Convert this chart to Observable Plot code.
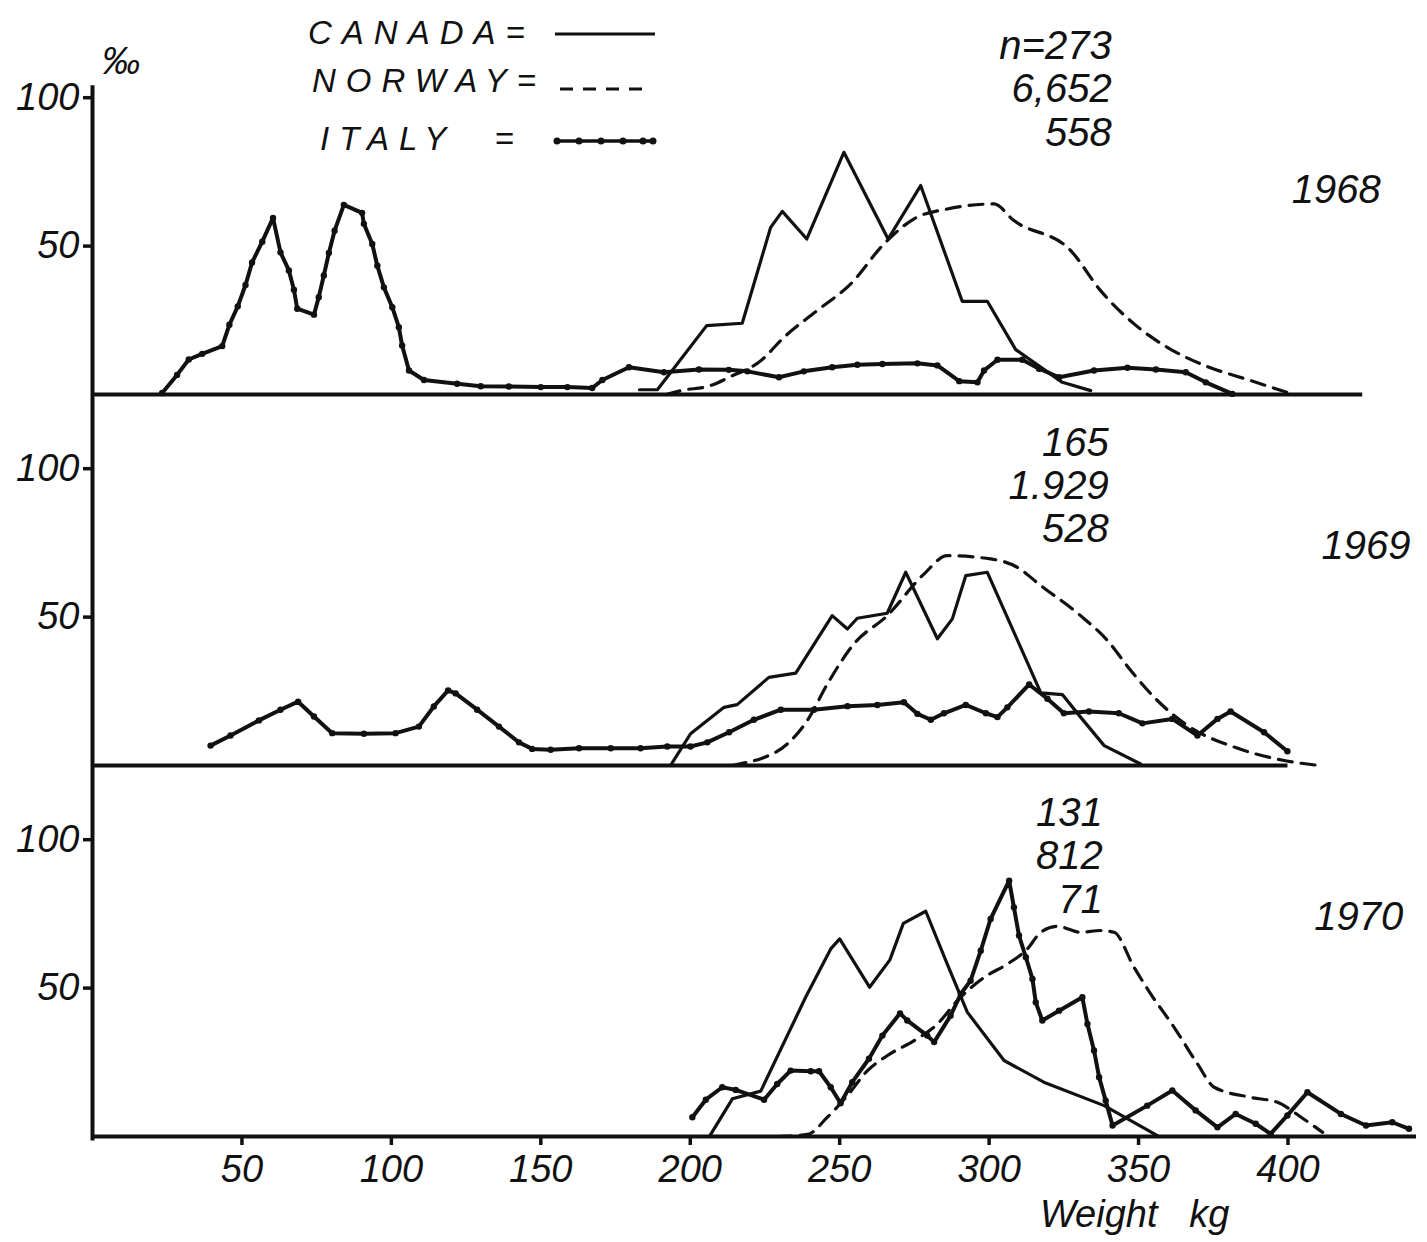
<!DOCTYPE html>
<html><head><meta charset="utf-8">
<script src="https://cdn.jsdelivr.net/npm/d3@7"></script>
<script src="https://cdn.jsdelivr.net/npm/@observablehq/plot@0.6"></script>
<style>
body{margin:0;background:#fff;}
#wrap{position:relative;width:1427px;height:1242px;font-family:"Liberation Sans",sans-serif;font-style:italic;color:#111;}
.leg{position:absolute;font-size:33px;letter-spacing:10px;line-height:1;white-space:nowrap;}
#legsvg{position:absolute;left:545px;top:0px;}
</style></head><body><div id="wrap"></div>
<script>
// ---- data (weight kg, per mille) ----
const years = ["1968", "1969", "1970"];
const xTicks = [50, 100, 150, 200, 250, 300, 350, 400];
const yTicks = [50, 100];
const nLabels = [["n=273", "6,652", "558"], ["165", "1.929", "528"], ["131", "812", "71"]];
const legendNames = ["CANADA=", "NORWAY=", "ITALY\u00a0\u00a0="];

const canada1968 = [[183,1.6],[189,1.6],[205.5,23.2],[217.4,24],[226.9,56.3],[230.8,61.7],[239,52.4],[251.4,81.6],[266.2,52.4],[277.1,70.4],[291,31.4],[299.4,31.4],[308.9,15.1],[324.5,4.1],[334,1.3]];
const norway1968 = [[192,0],[196.8,1.3],[206.8,3],[213,5.8],[223.6,11.4],[231.4,19.3],[242.5,28.3],[253.7,37.3],[264.8,50.7],[274.9,59.2],[286,62.5],[301.6,64.2],[308.3,58.6],[327.3,48.5],[337.3,35],[348.5,23.8],[359.6,15.9],[370.8,10.3],[387.5,4.7],[402,0]];
const italy1968 = [[23.3,0.5],[28.3,6.6],[32.2,11.8],[36.7,13.7],[43.4,16.3],[45.8,23.5],[48.6,29.7],[51.2,36.9],[53.4,44.5],[56.8,51.5],[60.4,59.5],[62.9,47.9],[65.7,41.8],[67.4,35.3],[68.5,28.9],[74.1,26.9],[75.7,32.8],[77.4,40.1],[79.1,47.7],[81,55.2],[84.1,63.9],[90.2,61.2],[90.8,57.5],[93.6,50.7],[95.3,43.4],[97.5,36.1],[100.3,29.4],[102.5,22.7],[103.6,16.5],[105.9,8.1],[110.9,4.9],[122,3.6],[129.9,2.8],[139.3,2.7],[150,2.5],[158.9,2.5],[167.2,2.2],[170.6,4.9],[179.5,9.2],[191.2,7.5],[202.9,8.4],[212.9,8.3],[219.1,7.8],[229.7,5.8],[238,7.8],[247.5,9.2],[255.9,10],[264.3,10.3],[276,10.5],[282.7,9.8],[290,4.5],[296.1,4.1],[298.3,8.1],[302.8,11.7],[311.1,11.7],[316.7,8.7],[323.4,5.8],[335.1,8.1],[346.3,9],[355.8,8.4],[365.8,7.5],[372.5,4.1],[381.4,0.2]];

const canada1969 = [[193.4,0],[200.1,10.7],[211.3,19.6],[215.7,20.5],[226.3,29.7],[235.3,31.1],[247.5,50.5],[252.6,46],[255.9,49.6],[265.9,51.3],[272.1,65.1],[282.7,42.7],[287.7,49.4],[292.2,64],[299.4,65.1],[317.3,24.5],[324.5,23.9],[330.6,16.3],[338.5,6.7],[350.7,0.5]];
const norway1969 = [[214,0],[219.1,1.1],[223.6,2.3],[232.5,7.3],[239.2,15.2],[245.9,27.5],[254.8,41],[265.9,50.5],[278.2,64.5],[286,70.7],[300.5,69.6],[309.4,66.8],[317.3,60.6],[330.6,50.5],[339.6,42.1],[347.4,32],[356.3,21.9],[366.3,13.5],[382,6.2],[398.7,1.7],[410.4,0]];
const italy1969 = [[39.5,6.7],[46.2,10.1],[55.7,15.2],[62.9,18.8],[68.8,21.5],[74.1,16.5],[80.2,10.9],[90.8,10.7],[101.4,10.9],[109.2,13.1],[114.2,19.9],[119,25.3],[121.5,24.3],[128.7,18.8],[136,13.1],[142.7,7.8],[147.1,5.6],[153.3,5.3],[162.8,5.8],[173.4,5.8],[183.4,5.8],[192.3,6.4],[200.1,6.4],[205.7,7.8],[213,11.2],[221.3,15.4],[230.3,18.8],[241.4,18.8],[252.6,20],[262.6,20.4],[271.5,21.3],[276,17.4],[280.5,15.4],[284.9,17.6],[292.2,20.4],[298.9,17.6],[302.8,16.3],[306.1,19.6],[313.4,27.3],[319.5,22.5],[325,17.6],[333.4,18.2],[343.4,17.6],[351.3,14.2],[361.3,15.7],[369.7,10.1],[376.4,15.7],[380.8,18.2],[392,11.2],[399.8,4.8]];

const canada1970 = [[206.6,0.3],[214.1,12.7],[223.6,15.3],[238.6,46.9],[247,63.2],[250,66.6],[260,50.3],[266.8,59.5],[271.3,71.8],[278.8,75.9],[286,58.1],[292.7,41.9],[305,25.6],[318.3,18.3],[338.5,10.4],[356.3,0.3]];
const norway1970 = [[229,0],[239.2,0.7],[245.9,6.5],[252.6,13.8],[259.3,22.2],[266,27.3],[274.9,32.3],[282.7,37.9],[289.4,45.8],[298.3,53.6],[306.1,58.1],[312.8,63.2],[317.3,68.8],[322.9,70.8],[330.6,68.8],[337.3,69.4],[341.8,68.8],[348.5,57],[354.1,48],[361.9,36.8],[369.7,24.5],[375.3,16.6],[387.5,13.2],[396.5,11.5],[404.4,6.5],[411.6,1.4]];
const italy1970 = [[200.7,6.5],[205.2,12.4],[210.7,16.6],[215.2,15.7],[224.7,12.4],[229.1,17.7],[233.6,22.2],[240.3,22],[243.1,22],[247,16.6],[250.3,11.2],[254.2,18.3],[259.8,26.2],[264.3,34],[270.2,41.5],[272.6,39.1],[279.3,34],[281.6,31.8],[287.1,40.7],[290.5,48],[293.8,52.5],[297.2,62.6],[300.5,73.3],[306.7,86.2],[308.3,77.2],[310,67.7],[312.3,60.4],[314.5,53.1],[315.6,45.2],[317.8,39.1],[323.4,42.4],[331.2,46.9],[332.9,37.9],[335.1,29],[336.8,20],[339,12.1],[341.3,3.7],[352.9,10.4],[361.3,15.5],[369.1,8.8],[376.4,3.1],[382.5,7.6],[389.2,4.3],[394.2,0.9],[399.8,7.1],[406.5,14.9],[417.7,7.6],[426.1,3.7],[434.9,4.8],[440.5,2.6]];

// ---- layout config (not data) ----
const panelFrame = [ {axisTop:104, axisBottom:0, baseEnd:425}, {axisTop:125, axisBottom:0, baseEnd:400}, {axisTop:125, axisBottom:-1.5, baseEnd:443} ];
const annotPos = [ {yearX:431, yearY:68.7, nX:341, nY:123.3}, {yearX:441, yearY:74, nX:340, nY:114.6}, {yearX:438.6, yearY:73.8, nX:338, nY:114.9} ];

// ---- build tables ----
const rows = [];
function add(year, country, arr) { for (const [kg, v] of arr) rows.push({year, country, kg, v}); }
add("1968","Canada",canada1968); add("1968","Norway",norway1968); add("1968","Italy",italy1968);
add("1969","Canada",canada1969); add("1969","Norway",norway1969); add("1969","Italy",italy1969);
add("1970","Canada",canada1970); add("1970","Norway",norway1970); add("1970","Italy",italy1970);
const byC = c => rows.filter(d => d.country === c);
const frames = years.map((year, i) => ({year, ...panelFrame[i]}));
const annots = years.map((year, i) => ({year, n: nLabels[i].join("\n"), ...annotPos[i]}));

const plot = Plot.plot({
  width: 1427, height: 1242,
  marginLeft: 92, marginRight: 11, marginTop: 23, marginBottom: 106,
  x: {domain: [0, 443]},
  y: {domain: [0, 125]},
  fy: {domain: years, padding: 0, axis: null},
  style: {background: "#fff", fontFamily: "'Liberation Sans', sans-serif", fontStyle: "italic", fontSize: "38px", color: "#111"},
  marks: [
    Plot.ruleX(frames, {x: 0, y1: "axisBottom", y2: "axisTop", fy: "year", strokeWidth: 4}),
    Plot.ruleY(frames, {y: 0, x1: 0, x2: "baseEnd", fy: "year", strokeWidth: 4}),
    Plot.axisY({ticks: yTicks, tickSize: 9, tickPadding: 4, strokeWidth: 3.5, label: null, fontSize: 38}),
    Plot.axisX({ticks: xTicks, tickSize: 9, tickPadding: 10, strokeWidth: 3.5, label: null, fontSize: 38}),
    Plot.line(byC("Norway"), {x: "kg", y: "v", fy: "year", curve: "monotone-x", stroke: "#111", strokeWidth: 3.2, strokeDasharray: "14,9"}),
    Plot.line(byC("Canada"), {x: "kg", y: "v", fy: "year", stroke: "#111", strokeWidth: 3.2}),
    Plot.line(byC("Italy"), {x: "kg", y: "v", fy: "year", stroke: "#111", strokeWidth: 4}),
    Plot.dot(byC("Italy"), {x: "kg", y: "v", fy: "year", r: 3.2, fill: "#111"}),
    Plot.text(annots, {fy: "year", x: "yearX", y: "yearY", text: "year", textAnchor: "end", fontSize: 40}),
    Plot.text(annots, {fy: "year", x: "nX", y: "nY", text: "n", textAnchor: "end", lineAnchor: "top", lineHeight: 1.08, fontSize: 40}),
    Plot.text([{year: "1968", t: "\u2030"}], {fy: "year", x: () => 9.5, y: () => 112, text: "t", fontSize: 38}),
    Plot.text([{year: "1970", t: "Weight\u00a0\u00a0 kg"}], {fy: "year", x: () => 317, frameAnchor: "bottom", dy: 90, text: "t", textAnchor: "start", fontSize: 38})
  ]
});

const wrap = document.getElementById("wrap");
wrap.appendChild(plot);

// legend overlay (HTML text + sample strokes)
const legTops = [16, 64, 122], legLefts = [308, 312, 320];
legendNames.forEach((name, i) => {
  const d = document.createElement("div");
  d.className = "leg"; d.style.left = legLefts[i] + "px"; d.style.top = legTops[i] + "px";
  d.textContent = name; wrap.appendChild(d);
});
const ns = "http://www.w3.org/2000/svg";
const ls = document.createElementNS(ns, "svg");
ls.setAttribute("id", "legsvg"); ls.setAttribute("width", 130); ls.setAttribute("height", 160);
ls.innerHTML = `
 <line x1="10" x2="110" y1="34" y2="34" stroke="#111" stroke-width="3"/>
 <line x1="15" x2="105" y1="89" y2="89" stroke="#111" stroke-width="3" stroke-dasharray="13,10"/>
 <line x1="10" x2="110" y1="141" y2="141" stroke="#111" stroke-width="3.5"/>
 ${[12,34,56,78,98,108].map(x => `<circle cx="${x}" cy="141" r="3.5" fill="#111"/>`).join("")}
`;
wrap.appendChild(ls);
</script></body></html>
